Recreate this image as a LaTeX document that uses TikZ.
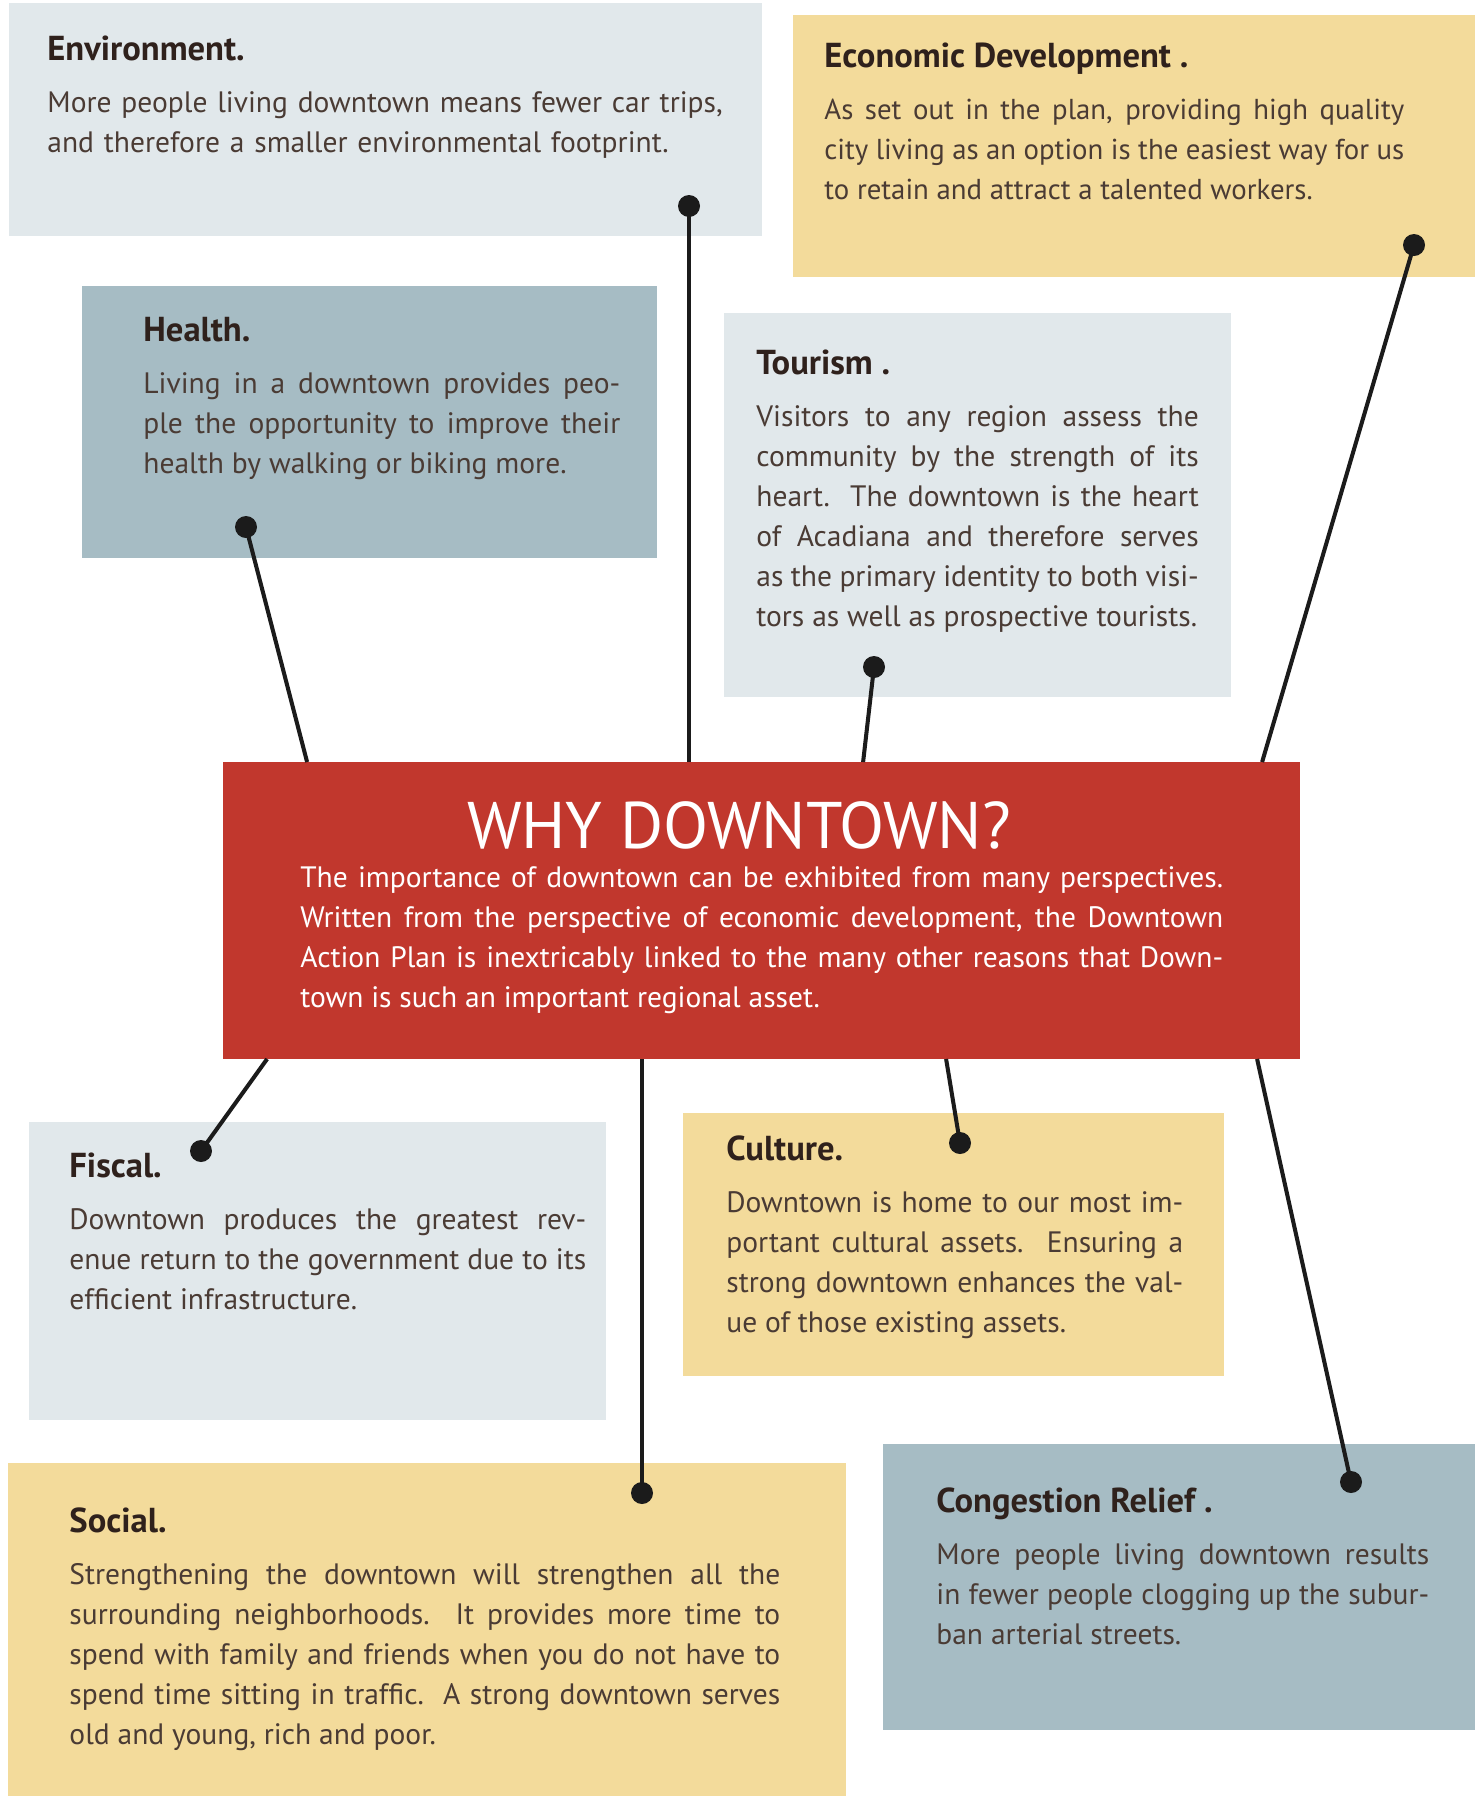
\documentclass[tikz,border=0pt]{standalone}
\usepackage{fontspec}
\setmainfont{PT Sans}
\usetikzlibrary{calc}
\definecolor{paleblue}{HTML}{E1E8EB}
\definecolor{gold}{HTML}{F3DB9B}
\definecolor{steel}{HTML}{A6BCC4}
\definecolor{brick}{HTML}{C1372D}
\definecolor{ink}{HTML}{2F211C}
\definecolor{brown}{HTML}{4A3B34}
\definecolor{stem}{HTML}{1B1B1B}
\hyphenpenalty=10000

\begin{document}
\begin{tikzpicture}[x=0.02cm,y=0.02cm,
  box/.style={fill=#1,inner sep=0,outer sep=0},
  ttl/.style={font=\bfseries\fontsize{19.7}{22}\selectfont,text=ink,inner sep=0,anchor=base west},
  body/.style={font=\fontsize{16.8}{22.8}\selectfont,text=brown,inner sep=0,anchor=north west,align=justify,text width=#1},
  dot/.style={circle,fill=stem,inner sep=0,minimum size=0.44cm},
  stick/.style={draw=stem,line width=2.3pt}]
\useasboundingbox (0,0) rectangle (1475,-1796);

\node[box=paleblue,minimum width=15.06cm,minimum height=4.66cm] (env) at (385.5,-119.5) {};
\node[box=gold,minimum width=13.64cm,minimum height=5.24cm] (eco) at (1134,-146) {};
\node[box=steel,minimum width=11.5cm,minimum height=5.44cm] (hlth) at (369.5,-422) {};
\node[box=paleblue,minimum width=10.14cm,minimum height=7.68cm] (tour) at (977.5,-505) {};
\node[box=brick,minimum width=21.54cm,minimum height=5.94cm] (why) at (761.5,-910.5) {};
\node[box=paleblue,minimum width=11.54cm,minimum height=5.96cm] (fis) at (317.5,-1271) {};
\node[box=gold,minimum width=10.82cm,minimum height=5.26cm] (cul) at (953.5,-1244.5) {};
\node[box=gold,minimum width=16.76cm,minimum height=6.66cm] (soc) at (427,-1629.5) {};
\node[box=steel,minimum width=11.84cm,minimum height=5.72cm] (cong) at (1179,-1587) {};

\node[ttl] (envttl) at ($(env.north west)+(38,-57)$) {Environment.};
\node[body=14cm,align=left] (envtxt) at ($(envttl.base west)+(0,-24)$) {\strut More people living downtown means fewer car trips,\\ and therefore a smaller environmental footprint.};

\node[ttl] (ecottl) at ($(eco.north west)+(31,-52)$) {Economic Development .};
\node[body=11.6cm,font=\fontsize{16.4}{22.8}\selectfont] (ecotxt) at ($(ecottl.base west)+(0,-24)$) {\strut As set out in the plan, providing high quality\linebreak city living as an option is the easiest way for us\linebreak to retain and attract a talented workers.};

\node[ttl] (hlthttl) at ($(hlth.north west)+(61,-55)$) {Health.};
\node[body=9.54cm] (hlthtxt) at ($(hlthttl.base west)+(0,-24)$) {\strut Living in a downtown provides peo-\linebreak ple the opportunity to improve their\linebreak health by walking or biking more.};

\node[ttl] (tourttl) at ($(tour.north west)+(32,-61)$) {Tourism .};
\node[body=8.85cm] (tourtxt) at ($(tourttl.base west)+(0,-24)$) {\strut Visitors to any region assess the\linebreak community by the strength of its\linebreak heart.\ \ The downtown is the heart\linebreak of Acadiana and therefore serves\linebreak as the primary identity to both visi-\linebreak tors as well as prospective tourists.};

\node[font=\fontsize{37.5}{40}\selectfont,text=white,inner sep=0,anchor=base] (whyttl) at (739,-848) {WHY DOWNTOWN?};
\node[body=18.46cm,text=white] (whytxt) at (300,-859) {\strut The importance of downtown can be exhibited from many perspectives.\linebreak Written from the perspective of economic development, the Downtown\linebreak Action Plan is inextricably linked to the many other reasons that Down-\linebreak town is such an important regional asset.};

\node[ttl] (fisttl) at ($(fis.north west)+(40,-55)$) {Fiscal.};
\node[body=10.34cm] (fistxt) at ($(fisttl.base west)+(0,-24)$) {\strut Downtown produces the greatest rev-\linebreak enue return to the government due to its\linebreak efficient infrastructure.};

\node[ttl] (culttl) at ($(cul.north west)+(43,-47)$) {Culture.};
\node[body=9.14cm] (cultxt) at ($(culttl.base west)+(0,-24)$) {\strut Downtown is home to our most im-\linebreak portant cultural assets.\ \ Ensuring a\linebreak strong downtown enhances the val-\linebreak ue of those existing assets.};

\node[ttl] (socttl) at ($(soc.north west)+(61,-69)$) {Social.};
\node[body=14.22cm] (soctxt) at ($(socttl.base west)+(0,-24)$) {\strut Strengthening the downtown will strengthen all the\linebreak surrounding neighborhoods.\ \ It provides more time to\linebreak spend with family and friends when you do not have to\linebreak spend time sitting in traffic.\ \ A strong downtown serves\linebreak old and young, rich and poor.};

\node[ttl] (congttl) at ($(cong.north west)+(53,-68)$) {Congestion Relief .};
\node[body=9.86cm] (congtxt) at ($(congttl.base west)+(0,-24)$) {\strut More people living downtown results\linebreak in fewer people clogging up the subur-\linebreak ban arterial streets.};

\node[dot] (envdot) at (689,-206) {};
\node[dot] (ecodot) at (1414,-245) {};
\node[dot] (hlthdot) at (246,-527) {};
\node[dot] (tourdot) at (874,-667) {};
\node[dot] (fisdot) at (201,-1151) {};
\node[dot] (culdot) at (960,-1143) {};
\node[dot] (socdot) at (642,-1493) {};
\node[dot] (congdot) at (1351,-1482) {};

\coordinate (ecoend) at ($(why.north west)+(1039,0)$);
\coordinate (hlthend) at ($(why.north west)+(84,0)$);
\coordinate (tourend) at ($(why.north west)+(640,0)$);
\coordinate (fisend) at ($(why.south west)+(44,0)$);
\coordinate (culend) at ($(why.south west)+(723,0)$);
\coordinate (congend) at ($(why.south west)+(1034,0)$);

\draw[stick] (envdot.center) -- (envdot.center |- why.north);
\draw[stick] (ecodot.center) -- (ecoend);
\draw[stick] (hlthdot.center) -- (hlthend);
\draw[stick] (tourdot.center) -- (tourend);
\draw[stick] (fisdot.center) -- (fisend);
\draw[stick] (culdot.center) -- (culend);
\draw[stick] (socdot.center) -- (socdot.center |- why.south);
\draw[stick] (congdot.center) -- (congend);
\end{tikzpicture}
\end{document}
